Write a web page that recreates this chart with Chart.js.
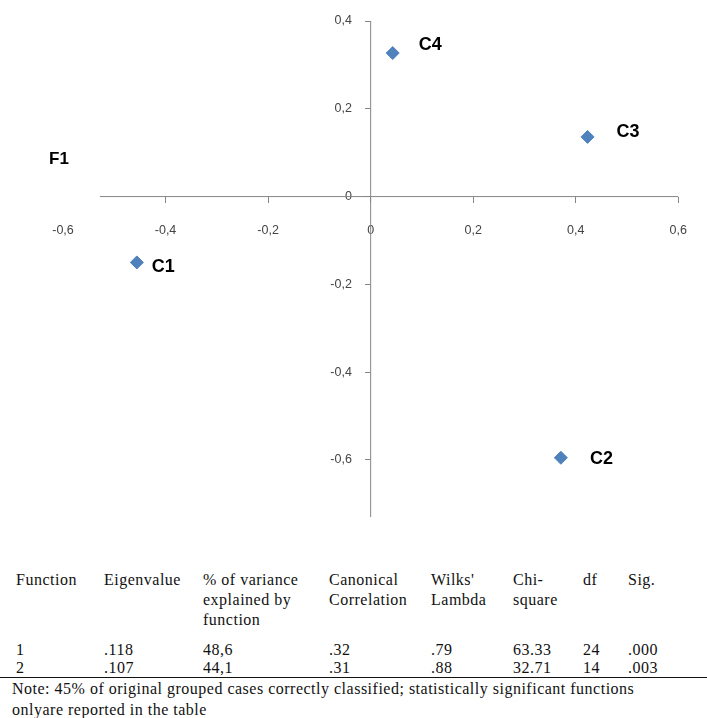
<!DOCTYPE html>
<html>
<head>
<meta charset="utf-8">
<script src="https://cdn.jsdelivr.net/npm/chart.js@4.4.1/dist/chart.umd.min.js"></script>
<style>
  body { margin: 0; background: #fff; width: 707px; height: 718px; position: relative; overflow: hidden; }
  #chartBox { position: absolute; left: 0; top: 0; width: 707px; height: 540px; }
  #f1 { position: absolute; left: 49px; top: 149px; font: bold 17px "Liberation Sans", Arial, sans-serif; color: #000; }
  .cell { position: absolute; font: 16px "Liberation Serif", "Times New Roman", serif; letter-spacing: 0.5px; color: #111; white-space: pre; }
  .head { top: 570px; line-height: 20px; }
  .row1 { top: 641px; line-height: 18px; }
  .row2 { top: 659px; line-height: 18px; }
  #rule { position: absolute; left: 0; top: 677px; width: 707px; height: 0; border-top: 1.5px solid #111; }
  #note { position: absolute; left: 12px; top: 678px; font: 16px "Liberation Serif", "Times New Roman", serif; line-height: 21px; letter-spacing: 0.5px; color: #111; white-space: nowrap; }
</style>
</head>
<body>
<div id="chartBox"><canvas id="chart"></canvas></div>
<div id="f1">F1</div>
<div id="table"></div>
<div id="rule"></div>
<div id="note">Note: 45% of original grouped cases correctly classified; statistically significant functions<br>onlyare reported in the table</div>

<script>
// centroid coordinates
const CLUSTERS = ["C1", "C2", "C3", "C4"];
const F_X = [-0.456, 0.371, 0.423, 0.043];
const F_Y = [-0.150, -0.595, 0.136, 0.327];

const X_TICKS = [-0.6, -0.4, -0.2, 0, 0.2, 0.4, 0.6];
const Y_TICKS = [-0.6, -0.4, -0.2, 0, 0.2, 0.4];

// table under the chart
const HEADERS = ["Function", "Eigenvalue", "% of variance\nexplained by\nfunction", "Canonical\nCorrelation", "Wilks'\nLambda", "Chi-\nsquare", "df", "Sig."];
const FUNCTION_1 = ["1", ".118", "48,6", ".32", ".79", "63.33", "24", ".000"];
const FUNCTION_2 = ["2", ".107", "44,1", ".31", ".88", "32.71", "14", ".003"];

const COL_X = [16, 104, 203, 329, 431, 513, 583, 628];
const X_AXIS_START = -0.528;
const LABEL_SHIFT = [[15, 5], [29, 1], [29, -5], [26, -8]];

const table = document.getElementById("table");
[["head", HEADERS], ["row1", FUNCTION_1], ["row2", FUNCTION_2]].forEach(([cls, cells]) => {
  cells.forEach((txt, i) => {
    const d = document.createElement("div");
    d.className = "cell " + cls;
    d.style.left = COL_X[i] + "px";
    d.textContent = txt;
    table.appendChild(d);
  });
});

const fmt = (v) => (v === 0 ? "0" : v.toFixed(1).replace(".", ","));

const crossAxes = {
  id: "crossAxes",
  beforeDatasetsDraw(chart) {
    const { ctx, scales: { x, y } } = chart;
    const x0 = x.getPixelForValue(0);
    const y0 = y.getPixelForValue(0);
    ctx.save();
    ctx.strokeStyle = "#868686";
    ctx.lineWidth = 1;
    ctx.beginPath();
    ctx.moveTo(x.getPixelForValue(X_AXIS_START), y0);
    ctx.lineTo(x.right, y0);
    ctx.moveTo(x0, y.top);
    ctx.lineTo(x0, y.bottom);
    ctx.stroke();
    ctx.restore();
  },
};

const pointNames = {
  id: "pointNames",
  afterDatasetsDraw(chart) {
    const ctx = chart.ctx;
    const meta = chart.getDatasetMeta(0);
    ctx.save();
    ctx.font = 'bold 18px "Liberation Sans", Arial, sans-serif';
    ctx.fillStyle = "#000";
    ctx.textBaseline = "middle";
    meta.data.forEach((pt, i) => {
      ctx.fillText(CLUSTERS[i], pt.x + LABEL_SHIFT[i][0], pt.y + LABEL_SHIFT[i][1]);
    });
    ctx.restore();
  },
};

const tickFont = { family: '"Liberation Sans", Arial, sans-serif', size: 12.5 };

new Chart(document.getElementById("chart"), {
  type: "scatter",
  data: {
    datasets: [
      {
        data: F_X.map((x, i) => ({ x, y: F_Y[i] })),
        pointStyle: "rectRot",
        pointRadius: 6.5,
        backgroundColor: "#4f81bd",
        borderColor: "#4f81bd",
        borderWidth: 1,
      },
    ],
  },
  options: {
    responsive: true,
    maintainAspectRatio: false,
    animation: false,
    layout: { padding: { left: 63, right: 26, top: 21, bottom: 23 } },
    plugins: { legend: { display: false }, tooltip: { enabled: false } },
    scales: {
      x: {
        type: "linear",
        min: -0.6,
        max: 0.6,
        position: { y: 0 },
        afterFit: (s) => { s.height = 0; },
        afterBuildTicks: (s) => { s.ticks = X_TICKS.map((value) => ({ value })); },
        border: { display: false },
        grid: {
          drawOnChartArea: false,
          drawTicks: true,
          tickLength: 6,
          color: (c) => (c.tick && c.tick.value < X_AXIS_START ? "rgba(0,0,0,0)" : "#868686"),
        },
        ticks: { padding: 20, color: "#444", font: tickFont, autoSkip: false, maxRotation: 0, callback: fmt },
      },
      y: {
        type: "linear",
        min: -0.73,
        max: 0.4,
        position: { x: 0 },
        afterFit: (s) => { s.width = 0; },
        afterBuildTicks: (s) => { s.ticks = Y_TICKS.map((value) => ({ value })); },
        border: { display: false },
        grid: { drawOnChartArea: false, drawTicks: true, tickLength: 6, color: "#868686" },
        // labels sit flush on the axis here, so pad them with trailing spaces
        ticks: { color: "#444", font: tickFont, callback: (v) => fmt(v) + "\u2003\u2002" },
      },
    },
  },
  plugins: [crossAxes, pointNames],
});
</script>
</body>
</html>
